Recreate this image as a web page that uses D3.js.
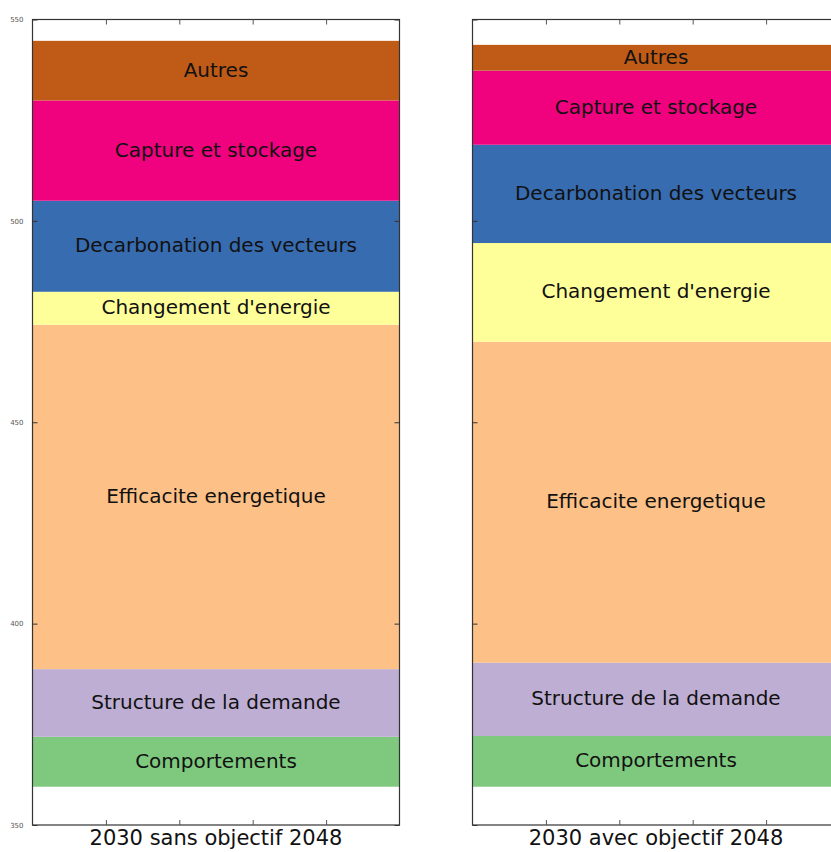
<!DOCTYPE html>
<html>
<head>
<meta charset="utf-8">
<script src="https://cdn.jsdelivr.net/npm/d3@7"></script>
<style>
  html, body { margin: 0; padding: 0; background: #fff; }
  svg { display: block; }
</style>
</head>
<body>
<svg id="chart" width="831" height="852"></svg>
<script>
// ---- Data ----
const scenarios = ["2030 sans objectif 2048", "2030 avec objectif 2048"];
const categories = ["Comportements", "Structure de la demande", "Efficacite energetique",
  "Changement d'energie", "Decarbonation des vecteurs", "Capture et stockage", "Autres"];
const baseValues = [359.5, 359.5];
const sansObjectif = [12.4, 16.8, 85.5, 8.2, 22.6, 24.9, 14.8];
const avecObjectif = [12.6, 18.2, 79.7, 24.5, 24.4, 18.4, 6.4];
const seriesValues = [sansObjectif, avecObjectif];
const colors = ["#7fc97f", "#beaed4", "#fdc086", "#ffff99", "#386cb0", "#f0027f", "#bf5b17"];
const yTicks = [350, 400, 450, 500, 550];
const xTickFractions = [0.2, 0.4, 0.6, 0.8];

// ---- Layout ----
const svg = d3.select("#chart");
const plotTop = 19.5, plotBottom = 825;
const panelWidth = 367;
const panelLefts = [32.5, 472.5];

const y = d3.scaleLinear().domain([350, 550]).range([plotBottom, plotTop]);

scenarios.forEach((name, i) => {
  const x0 = panelLefts[i];
  const x = d3.scaleLinear().domain([0, 1]).range([x0, x0 + panelWidth]);
  const g = svg.append("g");

  // stacked segments
  let cum = baseValues[i];
  const segs = seriesValues[i].map((v, k) => {
    const s = { lo: cum, hi: cum + v, cat: categories[k], color: colors[k] };
    cum += v;
    return s;
  });

  g.selectAll("rect.seg").data(segs).join("rect")
    .attr("class", "seg")
    .attr("x", x(0))
    .attr("width", x(1) - x(0))
    .attr("y", d => y(d.hi))
    .attr("height", d => y(d.lo) - y(d.hi))
    .attr("fill", d => d.color);

  g.selectAll("text.lbl").data(segs).join("text")
    .attr("class", "lbl")
    .attr("x", x(0.5))
    .attr("y", d => (y(d.hi) + y(d.lo)) / 2 - 1)
    .attr("dy", "0.35em")
    .attr("text-anchor", "middle")
    .attr("font-family", "DejaVu Sans, sans-serif")
    .attr("font-size", 20)
    .attr("fill", "#111")
    .text(d => d.cat);

  // frame
  g.append("rect")
    .attr("x", x(0)).attr("y", y(550))
    .attr("width", x(1) - x(0)).attr("height", y(350) - y(550))
    .attr("fill", "none").attr("stroke", "#333").attr("stroke-width", 1.2);

  // y ticks (inward, left and right)
  const yAxisL = d3.axisLeft(y).tickValues(yTicks).tickSizeInner(-5).tickSizeOuter(0)
    .tickFormat(i === 0 ? d3.format("d") : () => "").tickPadding(9);
  const gyl = g.append("g").attr("transform", `translate(${x(0)},0)`).call(yAxisL);
  const yAxisR = d3.axisRight(y).tickValues(yTicks).tickSizeInner(-5).tickSizeOuter(0)
    .tickFormat(() => "");
  const gyr = g.append("g").attr("transform", `translate(${x(1)},0)`).call(yAxisR);
  [gyl, gyr].forEach(a => {
    a.select(".domain").remove();
    a.selectAll("line").attr("stroke", "#333");
    a.selectAll("text").attr("font-family", "DejaVu Sans, sans-serif")
      .attr("font-size", 7).attr("fill", "#555");
  });

  // x ticks (inward, top and bottom)
  const xAxisB = d3.axisBottom(x).tickValues(xTickFractions).tickSizeInner(-5).tickSizeOuter(0)
    .tickFormat(() => "");
  const gxb = g.append("g").attr("transform", `translate(0,${y(350)})`).call(xAxisB);
  const xAxisT = d3.axisTop(x).tickValues(xTickFractions).tickSizeInner(-5).tickSizeOuter(0)
    .tickFormat(() => "");
  const gxt = g.append("g").attr("transform", `translate(0,${y(550)})`).call(xAxisT);
  [gxb, gxt].forEach(a => {
    a.select(".domain").remove();
    a.selectAll("line").attr("stroke", "#555");
  });

  // category label
  g.append("text")
    .attr("x", x(0.5))
    .attr("y", 845)
    .attr("text-anchor", "middle")
    .attr("font-family", "DejaVu Sans, sans-serif")
    .attr("font-size", 21)
    .attr("fill", "#111")
    .text(name);
});
</script>
</body>
</html>
